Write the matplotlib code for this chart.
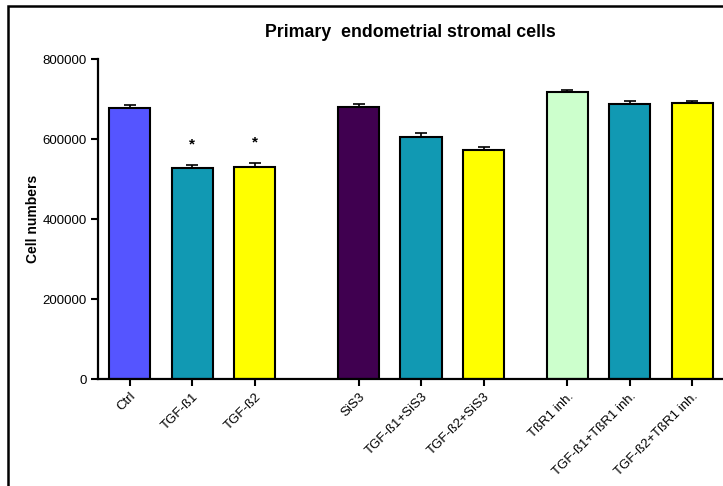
import numpy as np
import matplotlib.pyplot as plt
from matplotlib.patches import Rectangle

plt.rcParams['font.family'] = ['Liberation Sans', 'DejaVu Sans']

# data
labels = ['Ctrl', 'TGF-ß1', 'TGF-ß2',
          'SiS3', 'TGF-ß1+SiS3', 'TGF-ß2+SiS3',
          'TßR1 inh.', 'TGF-ß1+TßR1 inh.', 'TGF-ß2+TßR1 inh.']
values = [679000, 528000, 532000,
          680000, 606500, 572500,
          718000, 689000, 691500]
errors = [7000, 7000, 8000,
          7000, 8000, 9000,
          5000, 7000, 5000]
colors = ['#5555ff', '#1199b3', '#ffff00',
          '#400050', '#1199b3', '#ffff00',
          '#ccffcc', '#1199b3', '#ffff00']
positions = [0, 1, 2, 3.66, 4.66, 5.66, 7.0, 8.0, 9.0]
starred = ['TGF-ß1', 'TGF-ß2']

fig = plt.figure(figsize=(7.23, 4.86), dpi=100)
ax = fig.add_axes([0.1355, 0.2195, 0.8645, 0.6585])

ax.bar(positions, values, width=0.66, color=colors, edgecolor='black',
       linewidth=1.5, zorder=2)
ax.errorbar(positions, values, yerr=[np.zeros(len(errors)), errors],
            fmt='none', ecolor='black', elinewidth=1.2, capsize=4,
            capthick=1.2, zorder=1)

for p, v, e, lab in zip(positions, values, errors, labels):
    if lab in starred:
        ax.text(p, v + e + 52000, '*', ha='center', va='center',
                fontsize=11, fontweight='bold')

ax.set_xlim(-0.51, 9.49)
ax.set_ylim(0, 800000)
ax.set_yticks([0, 200000, 400000, 600000, 800000])
ax.set_yticklabels(['0', '200000', '400000', '600000', '800000'])
ax.set_xticks(positions)
ax.set_xticklabels(labels, rotation=45, ha='right', rotation_mode='anchor')

for s in ['top', 'right']:
    ax.spines[s].set_visible(False)
for s in ['left', 'bottom']:
    ax.spines[s].set_linewidth(1.6)
ax.tick_params(direction='out', length=5, width=1.5, labelsize=9.5, pad=3)

ax.set_ylabel('Cell numbers', fontsize=10, fontweight='bold', labelpad=2)
fig.text(0.567, 0.934, 'Primary  endometrial stromal cells', ha='center',
         va='center', fontsize=12.8, fontweight='bold')

# outer frame
fig.patches.append(Rectangle((8 / 723, -0.1), 1.2, 1 - 6 / 486 + 0.1,
                             transform=fig.transFigure, fill=False,
                             edgecolor='black', linewidth=1.8))

fig.savefig('out.png', dpi=100)
